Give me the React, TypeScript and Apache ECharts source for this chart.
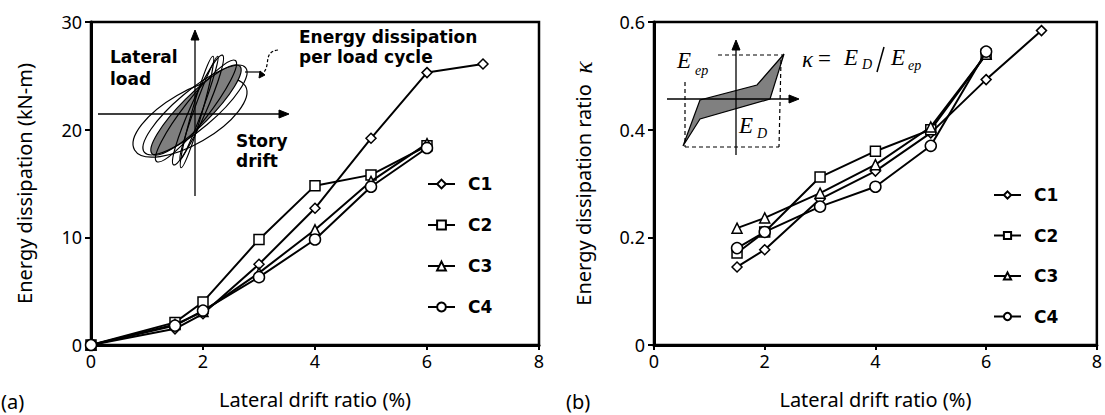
import React, { useEffect, useRef } from "react";
import * as echarts from "echarts";

// ---- data ----
const SERIES_NAMES = ["C1", "C2", "C3", "C4"];
const DRIFT_C1_A = [0, 1.5, 2, 3, 4, 5, 6, 7];
const DRIFT_A = [0, 1.5, 2, 3, 4, 5, 6];
const ENERGY_C1 = [0, 1.5, 2.9, 7.5, 12.7, 19.2, 25.3, 26.1];
const ENERGY_C2 = [0, 2.1, 4.0, 9.8, 14.8, 15.8, 18.5];
const ENERGY_C3 = [0, 1.9, 3.1, 6.7, 10.7, 15.2, 18.7];
const ENERGY_C4 = [0, 1.8, 3.2, 6.3, 9.8, 14.7, 18.3];

const DRIFT_C1_B = [1.5, 2, 3, 4, 5, 6, 7];
const DRIFT_B = [1.5, 2, 3, 4, 5, 6];
const KAPPA_C1 = [0.145, 0.177, 0.271, 0.323, 0.394, 0.493, 0.584];
const KAPPA_C2 = [0.171, 0.21, 0.312, 0.36, 0.4, 0.54];
const KAPPA_C3 = [0.217, 0.236, 0.282, 0.335, 0.405, 0.54];
const KAPPA_C4 = [0.18, 0.21, 0.257, 0.294, 0.37, 0.545];

const X_TICKS = { min: 0, max: 8, interval: 2 };
const Y_TICKS_A = { min: 0, max: 30, interval: 10 };
const Y_TICKS_B = { min: 0, max: 0.6, interval: 0.2 };

const SYMBOLS = ["diamond", "rect", "triangle", "circle"];
const SYMBOL_SIZES = [10, 10, 10, 11];

const FONT = "Noto Sans";
const BOLD = "DejaVu Sans";
const SERIF = "Liberation Serif";

const pairs = (xs: number[], ys: number[]) => xs.map((x, i) => [x, ys[i]]);

export default function App() {
  const ref = useRef<HTMLDivElement>(null);
  useEffect(() => {
    if (!ref.current) return;
    const chart = echarts.init(ref.current, undefined, { renderer: "svg" });

    const dataA = [
      pairs(DRIFT_C1_A, ENERGY_C1),
      pairs(DRIFT_A, ENERGY_C2),
      pairs(DRIFT_A, ENERGY_C3),
      pairs(DRIFT_A, ENERGY_C4),
    ];
    const dataB = [
      pairs(DRIFT_C1_B, KAPPA_C1),
      pairs(DRIFT_B, KAPPA_C2),
      pairs(DRIFT_B, KAPPA_C3),
      pairs(DRIFT_B, KAPPA_C4),
    ];

    const mkSeries = (data: number[][][], idx: number) =>
      data.map((d, i) => ({
        name: SERIES_NAMES[i],
        type: "line",
        xAxisIndex: idx,
        yAxisIndex: idx,
        data: d,
        symbol: SYMBOLS[i],
        symbolSize: SYMBOL_SIZES[i],
        showAllSymbol: true,
        itemStyle: { color: "#fff", borderColor: "#000", borderWidth: 1.5 },
        lineStyle: { color: "#000", width: 2 },
        emphasis: { disabled: true },
        z: 3 + i,
      }));

    const tickText = { fontFamily: FONT, fontSize: 18, color: "#000" };
    const nameText = { fontFamily: FONT, fontSize: 20, color: "#000" };

    const mkX = (gi: number) => ({
      gridIndex: gi,
      type: "value",
      ...X_TICKS,
      axisLine: { show: true, onZero: false, lineStyle: { color: "#000", width: 3 } },
      axisTick: { show: true, inside: false, length: 5, lineStyle: { color: "#000", width: 2 } },
      splitLine: { show: false },
      axisLabel: { ...tickText, margin: 7 },
      name: "Lateral drift ratio (%)",
      nameLocation: "middle",
      nameGap: 44,
      nameTextStyle: nameText,
    });

    const mkY = (gi: number, ticks: any, name: string, gap: number, rich?: any) => ({
      gridIndex: gi,
      type: "value",
      ...ticks,
      axisLine: { show: true, onZero: false, lineStyle: { color: "#000", width: 3 } },
      axisTick: { show: true, inside: false, length: 6, lineStyle: { color: "#000", width: 2 } },
      splitLine: { show: false },
      axisLabel: { ...tickText, margin: 9 },
      name,
      nameLocation: "middle",
      nameGap: gap,
      nameTextStyle: { ...nameText, rich },
    });

    const legendBase = {
      data: SERIES_NAMES,
      orient: "vertical",
      itemWidth: 27,
      padding: 0,
      selectedMode: false,
      textStyle: {
        fontFamily: BOLD,
        fontWeight: "bold",
        fontSize: 17,
        color: "#000",
        lineHeight: 20,
        padding: [0, 0, 0, 8],
      },
    };

    const loops = [
      { x: 190, y: 118, rx: 64, ry: 26, r: 30, fill: "none" },
      { x: 196, y: 110, rx: 62, ry: 15, r: 45, fill: "#7f7f7f" },
      { x: 195, y: 110, rx: 66, ry: 19, r: 40, fill: "none" },
      { x: 196, y: 111, rx: 64, ry: 12, r: 52, fill: "none" },
      { x: 198, y: 110, rx: 60, ry: 8, r: 66, fill: "none" },
      { x: 197, y: 112, rx: 58, ry: 5, r: 74, fill: "none" },
      { x: 199, y: 108, rx: 55, ry: 4, r: 70, fill: "none" },
    ];
    const loopEls = loops.map((l) => ({
      type: "ellipse",
      x: l.x,
      y: l.y,
      rotation: (l.r * Math.PI) / 180,
      shape: { cx: 0, cy: 0, rx: l.rx, ry: l.ry },
      style: { fill: l.fill, stroke: "#000", lineWidth: 1.2 },
      z: 10,
    }));

    const boldText = (x: number, y: number, text: string, lh: number) => ({
      type: "text",
      x,
      y,
      style: {
        text,
        fontFamily: BOLD,
        fontWeight: "bold",
        fontSize: 17,
        lineHeight: lh,
        fill: "#000",
        align: "left",
        verticalAlign: "top",
      },
      z: 20,
    });

    const serifText = (x: number, y: number, text: string, size: number, italic = true) => ({
      type: "text",
      x,
      y,
      style: {
        text,
        fontFamily: SERIF,
        fontStyle: italic ? "italic" : "normal",
        fontSize: size,
        fill: "#000",
        align: "left",
        verticalAlign: "middle",
      },
      z: 20,
    });

    const dashed = (x1: number, y1: number, x2: number, y2: number) => ({
      type: "line",
      shape: { x1, y1, x2, y2 },
      style: { stroke: "#000", lineWidth: 1.2, lineDash: [4, 3] },
      z: 12,
    });
    const solid = (x1: number, y1: number, x2: number, y2: number, w = 1.3) => ({
      type: "line",
      shape: { x1, y1, x2, y2 },
      style: { stroke: "#000", lineWidth: w },
      z: 15,
    });
    const head = (pts: number[][]) => ({
      type: "polygon",
      shape: { points: pts },
      style: { fill: "#000", stroke: "#000", lineWidth: 1 },
      z: 15,
    });

    const graphic = [
      // left inset: hysteresis loops
      ...loopEls,
      solid(195, 196, 195, 38),
      head([[195, 30], [191, 40], [199, 40]]),
      solid(98, 114, 281, 114),
      head([[289, 114], [279, 110], [279, 118]]),
      solid(245, 72, 260, 72, 1.2),
      {
        type: "bezierCurve",
        shape: { x1: 278, y1: 50, cpx1: 262, cpy1: 52, cpx2: 272, cpy2: 66, x2: 262, y2: 74 },
        style: { stroke: "#000", lineWidth: 1.2, lineDash: [3, 2], fill: "none" },
        z: 16,
      },
      head([[259, 78], [260, 71], [265, 75]]),
      boldText(110, 46, "Lateral\nload", 22),
      boldText(236, 131, "Story\ndrift", 20),
      boldText(299, 27, "Energy dissipation\nper load cycle", 20),

      // right inset
      {
        type: "polygon",
        shape: { points: [[683, 146], [700, 100], [757, 85], [784, 54], [770, 99], [700, 119]] },
        style: { fill: "#808080", stroke: "#000", lineWidth: 1.2 },
        z: 11,
      },
      dashed(718, 55, 783, 55),
      dashed(781, 60, 779, 147),
      dashed(685, 147, 779, 147),
      dashed(685, 82, 685, 147),
      solid(736, 155, 736, 47),
      head([[736, 40], [732, 50], [740, 50]]),
      solid(667, 99, 792, 99),
      head([[799, 99], [789, 95], [789, 103]]),
      serifText(677, 60.5, "E", 23),
      serifText(695, 70, "ep", 14),
      serifText(739, 125.5, "E", 23),
      serifText(757, 133, "D", 14),
      serifText(802, 59, "κ", 23),
      serifText(818, 58, "=", 23, false),
      serifText(844, 57.5, "E", 23),
      serifText(862, 64, "D", 14),
      solid(884, 47, 877, 72, 1.5),
      serifText(891, 57.5, "E", 23),
      serifText(908, 65, "ep", 14),

      // panel labels
      {
        type: "text",
        x: 1,
        y: 401,
        style: { text: "(a)", fontFamily: FONT, fontSize: 20, fill: "#000", verticalAlign: "middle" },
      },
      {
        type: "text",
        x: 566,
        y: 401,
        style: { text: "(b)", fontFamily: FONT, fontSize: 20, fill: "#000", verticalAlign: "middle" },
      },
    ];

    chart.setOption({
      animation: false,
      backgroundColor: "#fff",
      grid: [
        { left: 91, top: 22, width: 448, height: 323, show: true, borderColor: "#000", borderWidth: 2.5, backgroundColor: "transparent" },
        { left: 654, top: 22, width: 444, height: 323, show: true, borderColor: "#000", borderWidth: 2.5, backgroundColor: "transparent" },
      ],
      xAxis: [mkX(0), mkX(1)],
      yAxis: [
        mkY(0, Y_TICKS_A, "Energy dissipation (kN-m)", 57),
        mkY(1, Y_TICKS_B, "Energy dissipation ratio  {k|κ}", 58, {
          k: { fontFamily: SERIF, fontStyle: "italic", fontSize: 26, color: "#000" },
        }),
      ],
      legend: [
        { ...legendBase, left: 427, top: 174, itemHeight: 11, itemGap: 21 },
        { ...legendBase, left: 993, top: 185, itemHeight: 9, itemGap: 20.5 },
      ],
      series: [...mkSeries(dataA, 0), ...mkSeries(dataB, 1)],
      graphic,
    });

    return () => chart.dispose();
  }, []);

  return (
    <div
      ref={ref}
      style={{ position: "absolute", left: 0, top: 0, width: 1105, height: 415, background: "#fff" }}
    />
  );
}
